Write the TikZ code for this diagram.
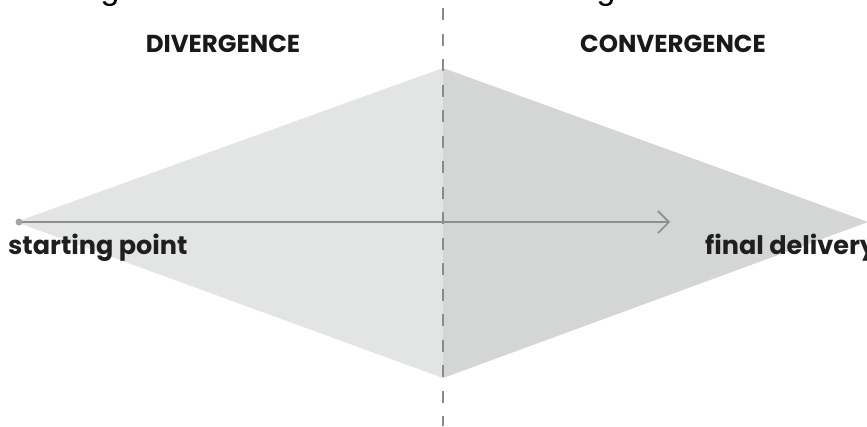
\documentclass[tikz,border=0pt]{standalone}
\usepackage{fontspec}
\setmainfont{Poppins}
\newfontfamily\cutfont{Liberation Sans}
\usetikzlibrary{arrows.meta}
\definecolor{leftgray}{HTML}{E3E4E4}
\definecolor{rightgray}{HTML}{D4D5D5}
\definecolor{linegray}{HTML}{8E8E8E}
\definecolor{dashgray}{HTML}{8A8A8A}
\tikzset{
  heading/.style={font=\bfseries\fontsize{24.5}{28}\selectfont, text=black!90, inner sep=0pt},
  pointlabel/.style={font=\bfseries\fontsize{25.5}{29}\selectfont, text=black!88, inner sep=0pt, anchor=base west},
  cutletter/.style={font=\cutfont\fontsize{34}{38}\selectfont, inner sep=0pt, anchor=base},
}
\begin{document}
\begin{tikzpicture}[x=1pt,y=-1pt]
\useasboundingbox (0,0) rectangle (867,426);
\fill[white] (0,0) rectangle (867,426);
\coordinate (L) at (16,222);
\coordinate (T) at (443,68);
\coordinate (B) at (443,378);
\coordinate (R) at (868,222);
\coordinate (D0) at (443,0);
\coordinate (D1) at (443,426);
\coordinate (S) at (19,222);
\coordinate (E) at (670,222);
\fill[leftgray] (L) -- (T) -- (B) -- cycle;
\fill[rightgray] (T) -- (R) -- (B) -- cycle;
\draw[dashgray, line width=1.8pt, dash pattern=on 12pt off 13.5pt, dash phase=17.5pt] (D0) -- (D1);
\draw[linegray, line width=1.8pt, -{Straight Barb[length=11pt,width=22pt,line width=1.6pt]}] (S) -- (E);
\fill[linegray!80] (S) circle (3.5pt);
\node[heading] (div) at (223,44) {DIVERGENCE};
\node[heading] (con) at (673,44) {CONVERGENCE};
\node[pointlabel] (sp) at (8,254) {starting point};
\node[pointlabel] (fd) at (705,254) {final delivery};
\begin{scope}
\clip (0,0) rectangle (867,426);
\node[cutletter] (g1) at (110,-1) {g};
\node[cutletter] (g2) at (606,-1) {g};
\end{scope}
\end{tikzpicture}
\end{document}
